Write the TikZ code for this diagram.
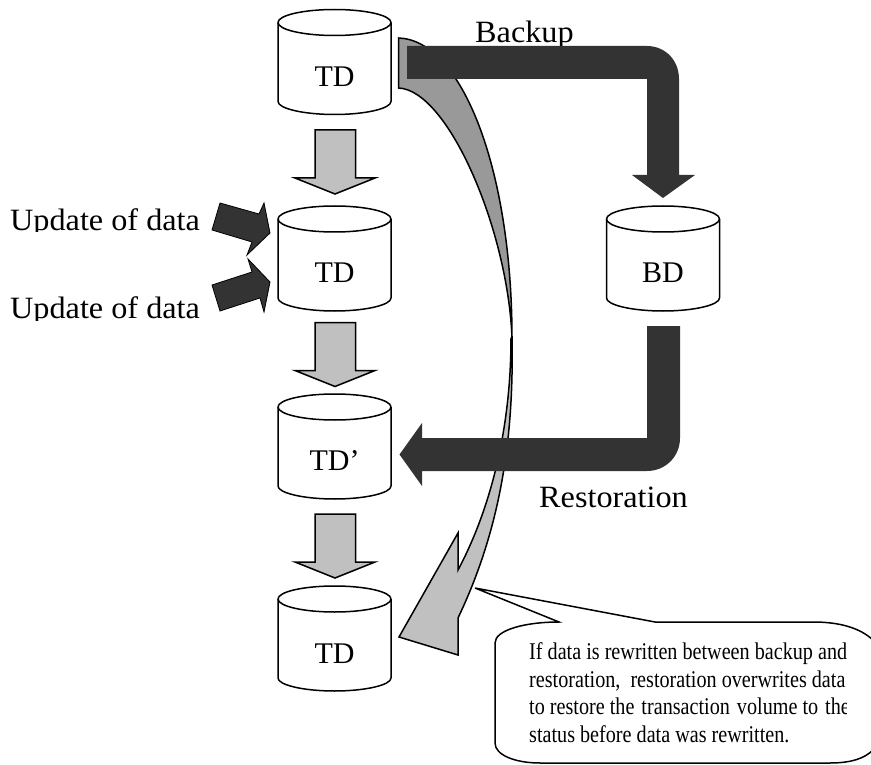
\documentclass[tikz,border=0pt]{standalone}
\usepackage{fontspec}
\setmainfont{Liberation Serif}
\newfontfamily\labfont[FakeStretch=1.04]{Liberation Serif}
\newfontfamily\notefont[FakeStretch=0.84]{Liberation Serif}
\definecolor{darkarrow}{HTML}{333333}
\definecolor{lightgray}{HTML}{C0C0C0}
\definecolor{midgray}{HTML}{999999}
\tikzset{
  cyl/.style={draw=black,fill=white,line width=1.5pt,line join=round},
  grayarrow/.style={draw=black,fill=lightgray,line width=1.5pt,line join=miter},
  darkshape/.style={fill=darkarrow,draw=none},
  biglabel/.style={inner sep=0pt,anchor=base west,font=\labfont\fontsize{31}{31}\selectfont},
  cyllabel/.style={inner sep=0pt,anchor=base,font=\fontsize{30}{30}\selectfont},
  noteline/.style={inner sep=0pt,anchor=base west,font=\notefont\fontsize{24}{24}\selectfont},
}
% centre x, top y of the ellipse, node name, label, label baseline offset
\newcommand{\dbcyl}[5]{%
  \draw[cyl] (#1-56.5,#2+13) -- (#1-56.5,#2+92)
    .. controls (#1-56.5,#2+99) and (#1-31,#2+105) .. (#1,#2+105)
    .. controls (#1+31,#2+105) and (#1+56.5,#2+99) .. (#1+56.5,#2+92)
    -- (#1+56.5,#2+13);
  \draw[cyl] (#1,#2+13) ellipse [x radius=56.5pt,y radius=13pt];
  \node[cyllabel] (#3) at (#1,#2+#5) {#4};
}
% top y of a gray down arrow
\newcommand{\downarrowshape}[1]{%
  \draw[grayarrow] (315,#1) -- (355.5,#1) -- (355.5,#1+48) -- (375,#1+48) -- (335,#1+64)
    -- (295,#1+48) -- (315,#1+48) -- cycle;
}
\begin{document}
\begin{tikzpicture}[x=1pt,y=-1pt]
\useasboundingbox (0,0) rectangle (871,765);
\clip (0,0) rectangle (871,765);
\fill[white] (0,0) rectangle (871,765);

% cylinders
\dbcyl{334.5}{9.5}{tdone}{TD}{77.5}
\dbcyl{334.5}{206}{tdtwo}{TD}{77}
\dbcyl{334.5}{394}{tdthree}{TD’}{76}
\dbcyl{334.5}{586}{tdfour}{TD}{77}
\dbcyl{663}{206}{bd}{BD}{77}

% gray down arrows
\downarrowshape{130}
\downarrowshape{322.5}
\downarrowshape{514}

% curved arrow, far band
\draw[draw=black,fill=midgray,line width=1.5pt,line join=miter]
  (398.5,38) .. controls (462,40) and (512,170) .. (512,338)
  .. controls (508,230) and (448,90) .. (398.5,88) -- cycle;
% curved arrow, near band with head
\draw[draw=black,fill=lightgray,line width=1.5pt,line join=miter]
  (512,338) .. controls (514,440) and (500,530) .. (458,618)
  -- (458,655) -- (399,637) -- (458,533) -- (458,570)
  .. controls (490,510) and (511,430) .. (511,338) -- cycle;

% callout
\draw[draw=black,fill=white,line width=1.5pt,line join=miter]
  (475,588) -- (655,622) -- (813,622)
  .. controls (840,622) and (860,628) .. (873,640)
  -- (873,750) .. controls (865,758) and (852,763) .. (830,763)
  -- (540,763) .. controls (515,763) and (495,755) .. (495,743)
  -- (495,643) .. controls (495,630) and (525,622) .. (559,622) -- cycle;
\begin{scope}
  \clip (525,630) rectangle (846,755);
  \node[noteline] (noteA) at (529,659) {If data is rewritten between backup and};
  \node[noteline] (noteB) at (529,687) {restoration,\hspace{5pt} restoration overwrites data};
  \node[noteline] (noteC) at (529,714) {to restore the\hspace{2pt} transaction\hspace{2pt} volume to\hspace{2pt} the};
  \node[noteline] (noteD) at (529,742) {status before data was rewritten.};
\end{scope}

% labels
\node[biglabel] (backuplabel) at (475,43) {Backup};
\node[biglabel] (restorelabel) at (539,507) {Restoration};
\begin{scope}
  \clip (0,200) rectangle (210,232);
  \node[biglabel] (updateA) at (10,230) {Update of data};
\end{scope}
\begin{scope}
  \clip (0,290) rectangle (210,320);
  \node[biglabel] (updateB) at (10,318) {Update of data};
\end{scope}

% backup arrow
\fill[darkshape] (407,46) -- (647,46) .. controls (665,46) and (679,60) .. (679,79)
  -- (679,175) -- (695,175) -- (663,198) -- (632,175) -- (647,175) -- (647,79) -- (407,79) -- cycle;
% restoration arrow
\fill[darkshape] (647,326) -- (680,326) -- (680,438)
  .. controls (680,457) and (665,471) .. (647,471)
  -- (422,471) -- (422,486) -- (399.5,454.5) -- (422,423) -- (422,438) -- (647,438) -- cycle;
% update arrows
\draw[darkshape,draw=black,line width=0.8pt,line join=miter] (220,203) -- (259,214) -- (264,203) -- (270,233) -- (247,255) -- (252,242) -- (212,230) -- cycle;
\draw[darkshape,draw=black,line width=0.8pt,line join=miter] (212,285) -- (252,272) -- (248,259) -- (270,282) -- (264,312) -- (260,298) -- (220,311) -- cycle;
\end{tikzpicture}
\end{document}
